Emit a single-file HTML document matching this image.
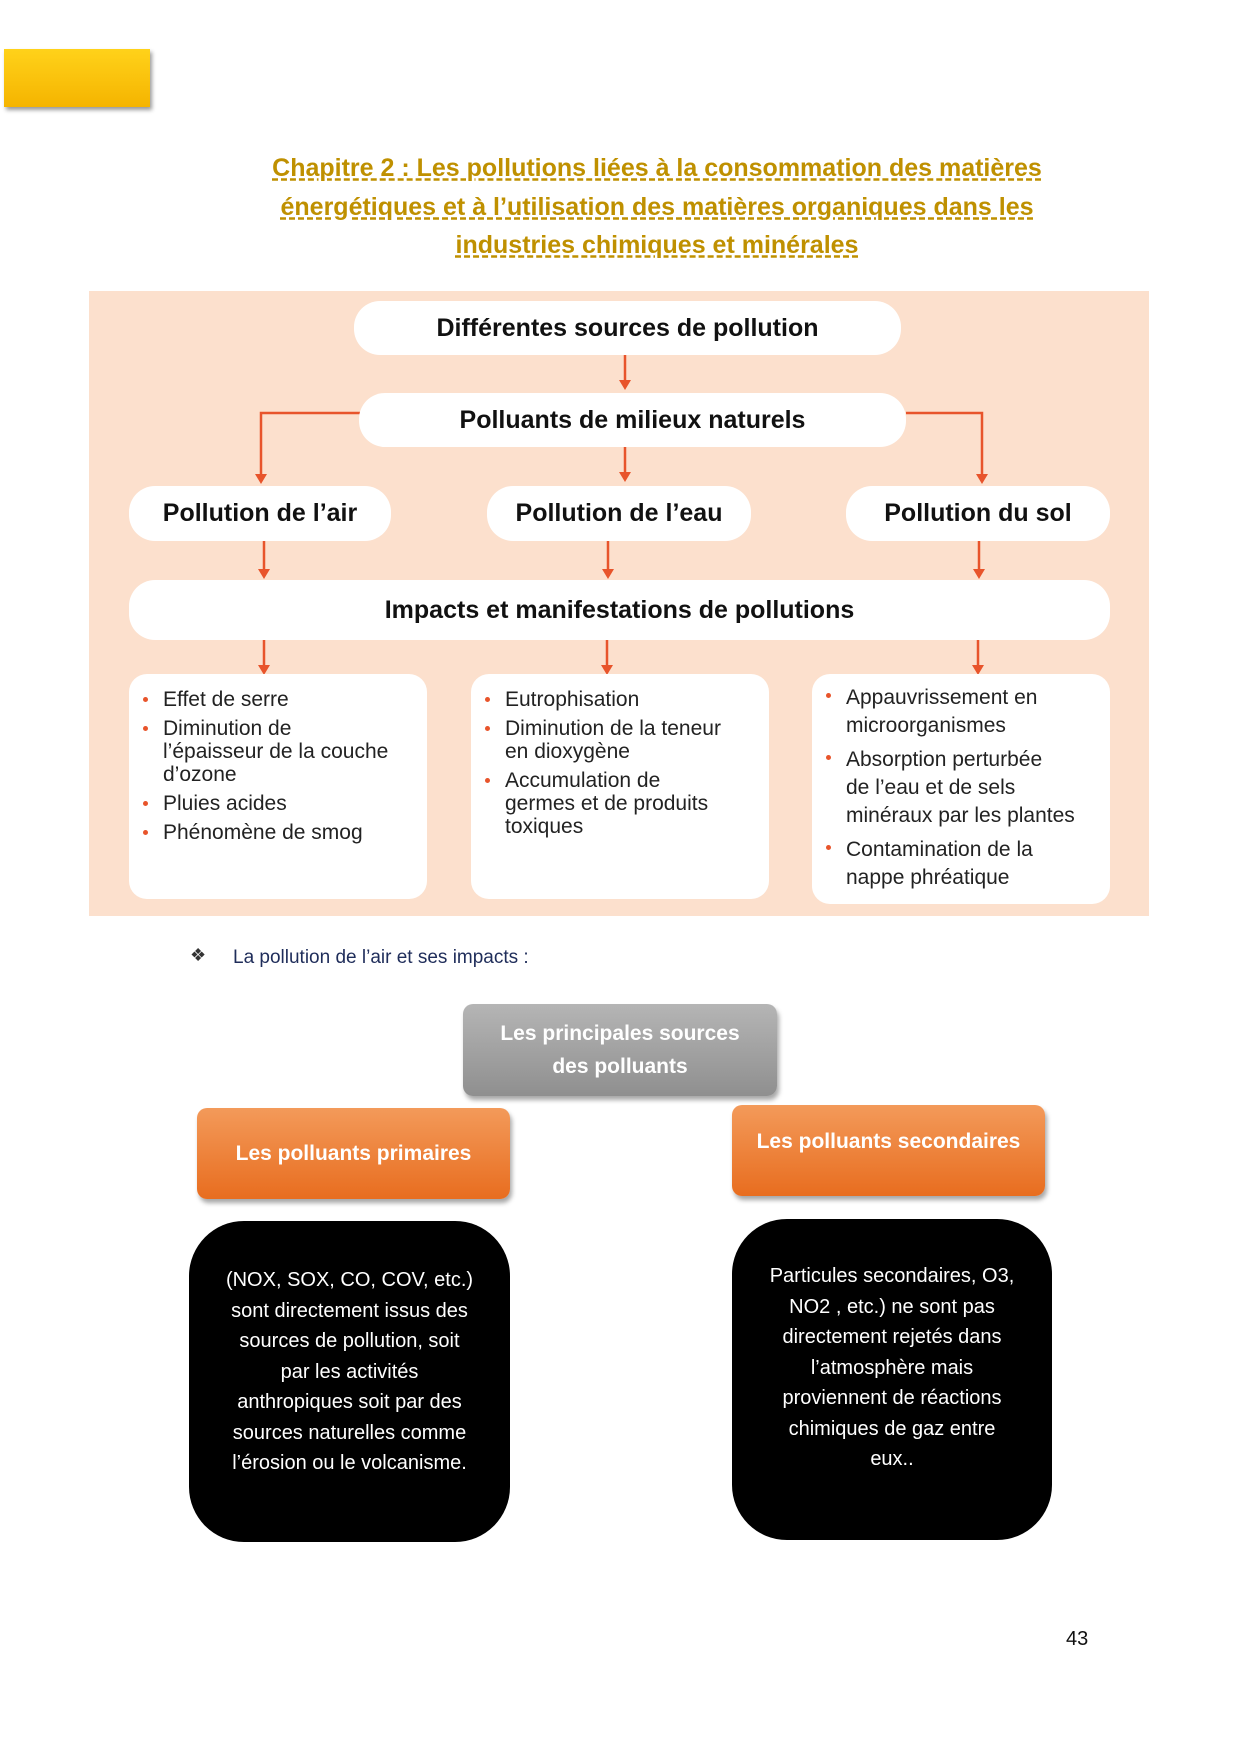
<!DOCTYPE html>
<html><head><meta charset="utf-8"><style>
body{margin:0;width:1241px;height:1755px;background:#fff;position:relative;overflow:hidden;font-family:"Liberation Sans",sans-serif}
.a{position:absolute}
.t{position:absolute;left:0;width:1314px;text-align:center;color:#bf9000;font-weight:bold;font-size:25px;text-decoration:underline;text-decoration-style:dashed}
.w{position:absolute;background:#fff;border-radius:26px;display:flex;align-items:center;justify-content:center;font-weight:bold;font-size:25px;color:#111}
.b{position:absolute;background:#fff;border-radius:18px;font-size:21px;color:#222;line-height:23px;box-sizing:border-box;padding-top:14px}
.b ul{margin:0;padding-left:34px;list-style:none}
.b li{position:relative;margin-bottom:6px}
.b li:before{content:"";position:absolute;left:-20px;top:9px;width:5px;height:5px;background:#e8542b;border-radius:50%}
.o{position:absolute;background:linear-gradient(#f39a5a,#e86d1f);border-radius:10px;color:#fff;font-weight:bold;font-size:21px;display:flex;align-items:center;justify-content:center;box-shadow:2px 4px 5px rgba(0,0,0,.35)}
.k{position:absolute;background:#000;border-radius:55px;color:#fff;font-size:20px;line-height:30.5px;text-align:center;box-sizing:border-box}
</style></head><body>
<div class="a" style="left:4px;top:49px;width:146px;height:58px;background:linear-gradient(#ffd21a,#f5b400);box-shadow:2px 3px 4px rgba(0,0,0,.4)"></div>
<div class="t" style="top:154px">Chapitre 2 : Les pollutions liées à la consommation des matières</div>
<div class="t" style="top:193px">énergétiques et à l’utilisation des matières organiques dans les</div>
<div class="t" style="top:231px">industries chimiques et minérales</div>

<div class="a" style="left:89px;top:291px;width:1060px;height:625px;background:#fce0cd"></div>
<svg class="a" style="left:0;top:0" width="1241" height="1000">
<g stroke="#e8542b" stroke-width="2.5" fill="none">
<line x1="625" y1="355" x2="625" y2="382"/>
<polyline points="360,413 261,413 261,476"/>
<polyline points="906,413 982,413 982,476"/>
<line x1="625" y1="447" x2="625" y2="474"/>
<line x1="264" y1="541" x2="264" y2="571"/>
<line x1="608" y1="541" x2="608" y2="571"/>
<line x1="979" y1="541" x2="979" y2="571"/>
<line x1="264" y1="640" x2="264" y2="667"/>
<line x1="607" y1="640" x2="607" y2="667"/>
<line x1="978" y1="640" x2="978" y2="667"/>
</g>
<g fill="#e8542b">
<polygon points="619,380 631,380 625,390"/>
<polygon points="255,474 267,474 261,484"/>
<polygon points="976,474 988,474 982,484"/>
<polygon points="619,472 631,472 625,482"/>
<polygon points="258,569 270,569 264,579"/>
<polygon points="602,569 614,569 608,579"/>
<polygon points="973,569 985,569 979,579"/>
<polygon points="258,665 270,665 264,675"/>
<polygon points="601,665 613,665 607,675"/>
<polygon points="972,665 984,665 978,675"/>
</g></svg>
<div class="w" style="left:354px;top:301px;width:547px;height:54px">Différentes sources de pollution</div>
<div class="w" style="left:359px;top:393px;width:547px;height:54px">Polluants de milieux naturels</div>
<div class="w" style="left:129px;top:486px;width:262px;height:55px">Pollution de l’air</div>
<div class="w" style="left:487px;top:486px;width:264px;height:55px">Pollution de l’eau</div>
<div class="w" style="left:846px;top:486px;width:264px;height:55px">Pollution du sol</div>
<div class="w" style="left:129px;top:580px;width:981px;height:60px">Impacts et manifestations de pollutions</div>
<div class="b" style="left:129px;top:674px;width:298px;height:225px"><ul><li>Effet de serre</li><li>Diminution de<br>l’épaisseur de la couche<br>d’ozone</li><li>Pluies acides</li><li>Phénomène de smog</li></ul></div>
<div class="b" style="left:471px;top:674px;width:298px;height:225px"><ul><li>Eutrophisation</li><li>Diminution de la teneur<br>en dioxygène</li><li>Accumulation de<br>germes et de produits<br>toxiques</li></ul></div>
<div class="b" style="left:812px;top:674px;width:298px;height:230px;padding-top:10px;line-height:28px"><ul><li>Appauvrissement en<br>microorganismes</li><li>Absorption perturbée<br>de l’eau et de sels<br>minéraux par les plantes</li><li>Contamination de la<br>nappe phréatique</li></ul></div>

<div class="a" style="left:190px;top:945px;font-size:18px;color:#333">❖</div>
<div class="a" style="left:233px;top:947px;font-size:19px;color:#1f2d5a">La pollution de l’air et ses impacts :</div>

<div class="a" style="left:463px;top:1004px;width:314px;height:92px;background:linear-gradient(#b5b5b5,#8f8f8f);border-radius:10px;color:#fff;font-weight:bold;font-size:21px;text-align:center;line-height:33px;box-sizing:border-box;padding-top:13px;box-shadow:2px 4px 5px rgba(0,0,0,.35)">Les principales sources<br>des polluants</div>
<div class="o" style="left:197px;top:1108px;width:313px;height:91px">Les polluants primaires</div>
<div class="o" style="left:732px;top:1105px;width:313px;height:91px;align-items:flex-start;padding-top:25px;box-sizing:border-box">Les polluants secondaires</div>
<div class="k" style="left:189px;top:1221px;width:321px;height:321px;padding-top:44px">(NOX, SOX, CO, COV, etc.)<br>sont directement issus des<br>sources de pollution, soit<br>par les activités<br>anthropiques soit par des<br>sources naturelles comme<br>l’érosion ou le volcanisme.</div>
<div class="k" style="left:732px;top:1219px;width:320px;height:321px;padding-top:42px">Particules secondaires, O3,<br>NO2 , etc.) ne sont pas<br>directement rejetés dans<br>l’atmosphère mais<br>proviennent de réactions<br>chimiques de gaz entre<br>eux..</div>
<div class="a" style="left:1066px;top:1628px;font-size:20px;color:#111">43</div>
</body></html>
